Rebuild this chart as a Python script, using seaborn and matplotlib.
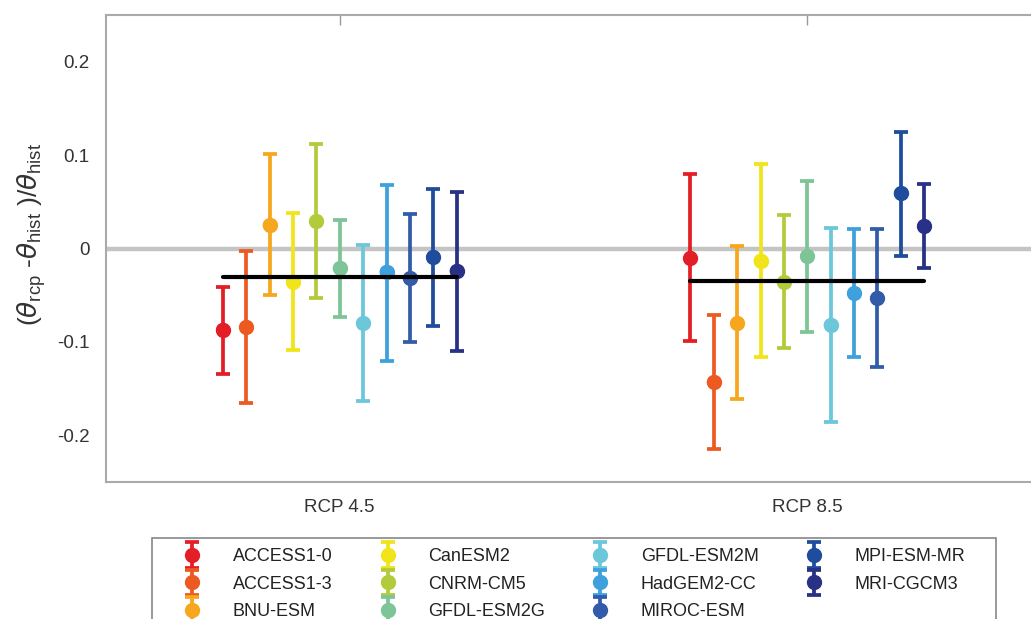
import matplotlib

matplotlib.use("Agg")
import matplotlib.pyplot as plt
import numpy as np
import pandas as pd
import seaborn as sns
from matplotlib.legend_handler import HandlerErrorbar
from matplotlib.patches import Rectangle

# model names and colours (legend order)
models = [
    "ACCESS1-0", "ACCESS1-3", "BNU-ESM", "CanESM2", "CNRM-CM5", "GFDL-ESM2G",
    "GFDL-ESM2M", "HadGEM2-CC", "MIROC-ESM", "MPI-ESM-MR", "MRI-CGCM3",
]
colors = [
    "#E41E26", "#EC5A22", "#F6A71D", "#F1E41A", "#B1CB3B", "#7DC597",
    "#6CC7DB", "#3FA1DC", "#325CA9", "#1F4C9C", "#283185",
]
scenarios = ["RCP 4.5", "RCP 8.5"]

# relative change, with lower / upper ends of the bars
rcp45_mid = [-0.087, -0.084, 0.025, -0.036, 0.029, -0.021, -0.080, -0.025, -0.032, -0.009, -0.024]
rcp45_low = [-0.134, -0.165, -0.050, -0.109, -0.053, -0.073, -0.163, -0.120, -0.100, -0.083, -0.110]
rcp45_high = [-0.041, -0.003, 0.101, 0.038, 0.112, 0.030, 0.004, 0.068, 0.037, 0.064, 0.061]

rcp85_mid = [-0.010, -0.143, -0.080, -0.013, -0.036, -0.008, -0.082, -0.048, -0.053, 0.059, 0.024]
rcp85_low = [-0.099, -0.215, -0.161, -0.116, -0.107, -0.089, -0.186, -0.116, -0.127, -0.008, -0.021]
rcp85_high = [0.080, -0.071, 0.003, 0.090, 0.036, 0.072, 0.022, 0.021, 0.021, 0.125, 0.069]

ensemble_mean = [-0.031, -0.035]

yticks = [-0.2, -0.1, 0, 0.1, 0.2]
ytick_labels = ["-0.2", "-0.1", "0", "0.1", "0.2"]

sns.set_theme(style="white")
plt.rcParams["font.family"] = ["Liberation Sans Narrow", "Liberation Sans", "DejaVu Sans"]
plt.rcParams["mathtext.fontset"] = "custom"
plt.rcParams["mathtext.rm"] = "Liberation Sans"
plt.rcParams["mathtext.it"] = "DejaVu Sans:italic"

rows = []
for s, (mid, low, high) in enumerate(
    [(rcp45_mid, rcp45_low, rcp45_high), (rcp85_mid, rcp85_low, rcp85_high)]
):
    for i, m in enumerate(models):
        rows.append({"scenario": s, "model": m, "idx": i, "mid": mid[i], "low": low[i], "high": high[i]})
df = pd.DataFrame(rows)
spacing = 0.05
df["x"] = df["scenario"] + 1 + (df["idx"] - (len(models) - 1) / 2) * spacing

fig = plt.figure(figsize=(10.31, 6.19), dpi=100)
ax = fig.add_axes([106 / 1031, 1 - 482 / 619, 935 / 1031, 467 / 619])

ax.axhline(0, color="#C4C4C4", lw=3.2, zorder=1)

handles = []
for i, m in enumerate(models):
    sub = df[df["model"] == m]
    yerr = np.vstack([sub["mid"] - sub["low"], sub["high"] - sub["mid"]])
    h = ax.errorbar(
        sub["x"], sub["mid"], yerr=yerr, fmt="o", color=colors[i], ms=10,
        elinewidth=2.7, capsize=5, capthick=2.7, label=m, zorder=3,
    )
    handles.append(h)

sns.scatterplot(
    data=df, x="x", y="mid", hue="model", palette=colors, s=100,
    edgecolor="none", legend=False, ax=ax, zorder=4,
)

# ensemble mean line spanning the models of each scenario
for s, mean in enumerate(ensemble_mean):
    xs = df[df["scenario"] == s]["x"]
    ax.plot([xs.min(), xs.max()], [mean, mean], color="black", lw=3, zorder=5)

ax.set_xlim(0.5, 2.5)
ax.set_ylim(-0.25, 0.25)
ax.set_xticks([1, 2])
ax.set_xticklabels(scenarios)
ax.set_yticks(yticks)
ax.set_yticklabels(ytick_labels)
ax.set_xlabel("")
ax.set_ylabel(r"$(\theta_{\rm rcp}$ -$\theta_{\rm hist}$ )/$\theta_{\rm hist}$", fontsize=19, color="#333333")
ax.yaxis.set_label_coords(-0.062, 0.53)
ax.tick_params(
    direction="in", length=7, width=1, color="#999999", labelsize=13.5,
    labelcolor="#333333", top=True, right=True, pad=12,
)
for sp in ax.spines.values():
    sp.set_color("#AAAAAA")
    sp.set_linewidth(1.5)

# legend frame drawn separately so the entries can sit further in
fig.patches.append(Rectangle(
    (152 / 1031, -0.05), (996 - 152) / 1031, 0.05 + 1 - 538 / 619,
    transform=fig.transFigure, facecolor="white", edgecolor="#888888", lw=1.2, zorder=0,
))
leg = fig.legend(
    handles=handles, labels=models, ncol=4, loc="upper left",
    bbox_to_anchor=(174 / 1031, 1 - 541 / 619), borderaxespad=0,
    fontsize=13, frameon=False, handlelength=1.2, handletextpad=1.65,
    columnspacing=2.45, labelspacing=0.58, borderpad=0.4,
    handler_map={type(handles[0]): HandlerErrorbar(yerr_size=0.7)},
)
for t in leg.get_texts():
    t.set_color("#222222")

fig.savefig("out.png", dpi=100)
